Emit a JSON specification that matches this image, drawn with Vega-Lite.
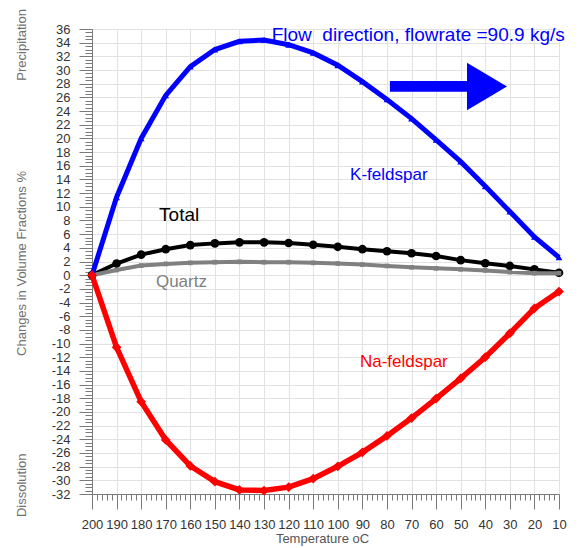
{
  "$schema": "https://vega.github.io/schema/vega-lite/v6.json",
  "width": 467,
  "height": 465,
  "autosize": "none",
  "padding": {"left": 92, "top": 29, "right": 22, "bottom": 54},
  "background": "white",
  "config": {
    "view": {"stroke": null},
    "font": "Liberation Sans",
    "axis": {"labelFont": "Liberation Sans", "titleFont": "Liberation Sans"}
  },
  "datasets": {
    "series": [
      {"T": 200, "v": 0, "m": "K"}, {"T": 190, "v": 11.4, "m": "K"}, {"T": 180, "v": 20.0, "m": "K"}, {"T": 170, "v": 26.3, "m": "K"}, {"T": 160, "v": 30.5, "m": "K"}, {"T": 150, "v": 33.0, "m": "K"}, {"T": 140, "v": 34.2, "m": "K"}, {"T": 130, "v": 34.4, "m": "K"}, {"T": 120, "v": 33.7, "m": "K"}, {"T": 110, "v": 32.5, "m": "K"}, {"T": 100, "v": 30.7, "m": "K"}, {"T": 90, "v": 28.3, "m": "K"}, {"T": 80, "v": 25.7, "m": "K"}, {"T": 70, "v": 22.9, "m": "K"}, {"T": 60, "v": 19.8, "m": "K"}, {"T": 50, "v": 16.6, "m": "K"}, {"T": 40, "v": 13.0, "m": "K"}, {"T": 30, "v": 9.3, "m": "K"}, {"T": 20, "v": 5.6, "m": "K"}, {"T": 10, "v": 2.6, "m": "K"},
      {"T": 200, "v": 0, "m": "Na"}, {"T": 190, "v": -10.55, "m": "Na"}, {"T": 180, "v": -18.5, "m": "Na"}, {"T": 170, "v": -24.1, "m": "Na"}, {"T": 160, "v": -27.9, "m": "Na"}, {"T": 150, "v": -30.2, "m": "Na"}, {"T": 140, "v": -31.4, "m": "Na"}, {"T": 130, "v": -31.5, "m": "Na"}, {"T": 120, "v": -31.0, "m": "Na"}, {"T": 110, "v": -29.75, "m": "Na"}, {"T": 100, "v": -27.95, "m": "Na"}, {"T": 90, "v": -25.9, "m": "Na"}, {"T": 80, "v": -23.5, "m": "Na"}, {"T": 70, "v": -20.9, "m": "Na"}, {"T": 60, "v": -18.05, "m": "Na"}, {"T": 50, "v": -15.1, "m": "Na"}, {"T": 40, "v": -12.0, "m": "Na"}, {"T": 30, "v": -8.5, "m": "Na"}, {"T": 20, "v": -4.85, "m": "Na"}, {"T": 10, "v": -2.4, "m": "Na"},
      {"T": 200, "v": 0, "m": "Total"}, {"T": 190, "v": 1.7, "m": "Total"}, {"T": 180, "v": 3.0, "m": "Total"}, {"T": 170, "v": 3.8, "m": "Total"}, {"T": 160, "v": 4.4, "m": "Total"}, {"T": 150, "v": 4.65, "m": "Total"}, {"T": 140, "v": 4.8, "m": "Total"}, {"T": 130, "v": 4.8, "m": "Total"}, {"T": 120, "v": 4.7, "m": "Total"}, {"T": 110, "v": 4.45, "m": "Total"}, {"T": 100, "v": 4.15, "m": "Total"}, {"T": 90, "v": 3.8, "m": "Total"}, {"T": 80, "v": 3.5, "m": "Total"}, {"T": 70, "v": 3.2, "m": "Total"}, {"T": 60, "v": 2.8, "m": "Total"}, {"T": 50, "v": 2.2, "m": "Total"}, {"T": 40, "v": 1.75, "m": "Total"}, {"T": 30, "v": 1.35, "m": "Total"}, {"T": 20, "v": 0.85, "m": "Total"}, {"T": 10, "v": 0.35, "m": "Total"},
      {"T": 200, "v": 0, "m": "Quartz"}, {"T": 190, "v": 0.75, "m": "Quartz"}, {"T": 180, "v": 1.4, "m": "Quartz"}, {"T": 170, "v": 1.65, "m": "Quartz"}, {"T": 160, "v": 1.8, "m": "Quartz"}, {"T": 150, "v": 1.9, "m": "Quartz"}, {"T": 140, "v": 1.95, "m": "Quartz"}, {"T": 130, "v": 1.9, "m": "Quartz"}, {"T": 120, "v": 1.9, "m": "Quartz"}, {"T": 110, "v": 1.8, "m": "Quartz"}, {"T": 100, "v": 1.7, "m": "Quartz"}, {"T": 90, "v": 1.55, "m": "Quartz"}, {"T": 80, "v": 1.35, "m": "Quartz"}, {"T": 70, "v": 1.15, "m": "Quartz"}, {"T": 60, "v": 1.0, "m": "Quartz"}, {"T": 50, "v": 0.85, "m": "Quartz"}, {"T": 40, "v": 0.7, "m": "Quartz"}, {"T": 30, "v": 0.45, "m": "Quartz"}, {"T": 20, "v": 0.3, "m": "Quartz"}, {"T": 10, "v": 0.3, "m": "Quartz"}
    ]
  },
  "encoding": {
    "x": {
      "field": "T", "type": "quantitative",
      "scale": {"domain": [10, 200], "reverse": true, "nice": false, "zero": false},
      "axis": {
        "title": "Temperature oC",
        "tickCount": 95,
        "labelExpr": "datum.value % 10 === 0 ? '' + datum.value : ''",
        "labelOverlap": false,
        "labelFlush": false,
        "labelFontSize": 13,
        "labelColor": "#333333",
        "labelPadding": 9,
        "tickSize": {"condition": {"test": "datum.value % 10 === 0", "value": 15}, "value": 6},
        "tickColor": "#7a7a7a",
        "domainColor": "#7a7a7a",
        "grid": true,
        "gridColor": "#e2e2e2",
        "gridOpacity": {"condition": {"test": "datum.value % 10 === 0", "value": 1}, "value": 0},
        "titleFontSize": 13,
        "titleFontWeight": "normal",
        "titleColor": "#555555",
        "titleX": 230,
        "titleY": 48,
        "titleAlign": "center",
        "titleBaseline": "alphabetic"
      }
    },
    "y": {
      "field": "v", "type": "quantitative",
      "scale": {"domain": [-32, 36], "nice": false, "zero": false},
      "axis": {
        "title": "Dissolution\u00a0\u00a0\u00a0\u00a0\u00a0\u00a0\u00a0\u00a0\u00a0\u00a0\u00a0\u00a0\u00a0\u00a0\u00a0\u00a0\u00a0\u00a0\u00a0\u00a0\u00a0\u00a0\u00a0\u00a0\u00a0\u00a0\u00a0Changes in Volume Fractions %\u00a0\u00a0\u00a0\u00a0\u00a0\u00a0\u00a0\u00a0\u00a0\u00a0\u00a0\u00a0\u00a0\u00a0\u00a0\u00a0\u00a0\u00a0\u00a0\u00a0\u00a0\u00a0\u00a0\u00a0\u00a0Precipitation",
        "tickCount": 136,
        "labelExpr": "datum.value % 2 === 0 ? '' + datum.value : ''",
        "labelOverlap": false,
        "labelFlush": false,
        "labelFontSize": 13,
        "labelColor": "#333333",
        "labelPadding": 9,
        "tickSize": {"condition": {"test": "datum.value % 2 === 0", "value": 13}, "value": 7},
        "tickColor": "#7a7a7a",
        "domainColor": "#7a7a7a",
        "grid": true,
        "gridColor": "#e2e2e2",
        "gridOpacity": {"condition": {"test": "datum.value % 2 === 0", "value": 1}, "value": 0},
        "titleFontSize": 13,
        "titleFontWeight": "normal",
        "titleColor": "#707070",
        "titleX": -71,
        "titleY": 233.6,
        "titleAngle": -90,
        "titleAlign": "center",
        "titleBaseline": "middle"
      }
    }
  },
  "layer": [
    {"data": {"name": "series"}, "transform": [{"filter": "datum.m === 'Total'"}], "mark": {"type": "line", "color": "#000000", "strokeWidth": 4}},
    {"data": {"name": "series"}, "transform": [{"filter": "datum.m === 'Total'"}], "mark": {"type": "point", "shape": "circle", "filled": true, "size": 75, "color": "#000000", "opacity": 1}},
    {"data": {"name": "series"}, "transform": [{"filter": "datum.m === 'Quartz'"}], "mark": {"type": "line", "color": "#808080", "strokeWidth": 4}},
    {"data": {"name": "series"}, "transform": [{"filter": "datum.m === 'Quartz'"}], "mark": {"type": "point", "shape": "square", "filled": true, "size": 22, "color": "#808080", "opacity": 1}},
    {"data": {"name": "series"}, "transform": [{"filter": "datum.m === 'K'"}], "mark": {"type": "line", "color": "#0000ff", "strokeWidth": 5}},
    {"data": {"name": "series"}, "transform": [{"filter": "datum.m === 'K'"}], "mark": {"type": "point", "shape": "triangle-up", "filled": true, "size": 45, "color": "#0000ff", "opacity": 1}},
    {"data": {"name": "series"}, "transform": [{"filter": "datum.m === 'Na'"}], "mark": {"type": "line", "color": "#ff0000", "strokeWidth": 5.5}},
    {"data": {"name": "series"}, "transform": [{"filter": "datum.m === 'Na'"}], "mark": {"type": "point", "shape": "diamond", "filled": true, "size": 95, "color": "#ff0000", "opacity": 1}},
    {"data": {"values": [{"T": 126.9, "v": 34.2, "label": "Flow\u00a0\u00a0direction, flowrate =90.9 kg/s"}]}, "mark": {"type": "text", "align": "left", "baseline": "alphabetic", "fontSize": 19, "color": "#0000ff", "font": "Liberation Sans"}, "encoding": {"text": {"field": "label"}}},
    {"data": {"values": [{"T": 172.7, "v": 7.87, "label": "Total"}]}, "mark": {"type": "text", "align": "left", "baseline": "alphabetic", "fontSize": 19, "color": "#000000", "font": "Liberation Sans"}, "encoding": {"text": {"field": "label"}}},
    {"data": {"values": [{"T": 174.0, "v": -1.68, "label": "Quartz"}]}, "mark": {"type": "text", "align": "left", "baseline": "alphabetic", "fontSize": 17, "color": "#808080", "font": "Liberation Sans"}, "encoding": {"text": {"field": "label"}}},
    {"data": {"values": [{"T": 95.0, "v": 13.9, "label": "K-feldspar"}]}, "mark": {"type": "text", "align": "left", "baseline": "alphabetic", "fontSize": 17, "color": "#0000ff", "font": "Liberation Sans"}, "encoding": {"text": {"field": "label"}}},
    {"data": {"values": [{"T": 91.0, "v": -13.5, "label": "Na-feldspar"}]}, "mark": {"type": "text", "align": "left", "baseline": "alphabetic", "fontSize": 17, "color": "#ff0000", "font": "Liberation Sans"}, "encoding": {"text": {"field": "label"}}},
    {"data": {"values": [{"T": 78.8, "T2": 46.2, "v": 27.6}]}, "mark": {"type": "rule", "color": "#0000ff", "strokeWidth": 10.7, "strokeCap": "butt"}, "encoding": {"x2": {"field": "T2"}}},
    {"data": {"values": [{"T": 39.3, "v": 27.6}]}, "mark": {"type": "point", "shape": "M-0.84,-1L0.84,0L-0.84,1Z", "filled": true, "size": 2266, "color": "#0000ff", "opacity": 1, "strokeWidth": 0}}
  ]
}
